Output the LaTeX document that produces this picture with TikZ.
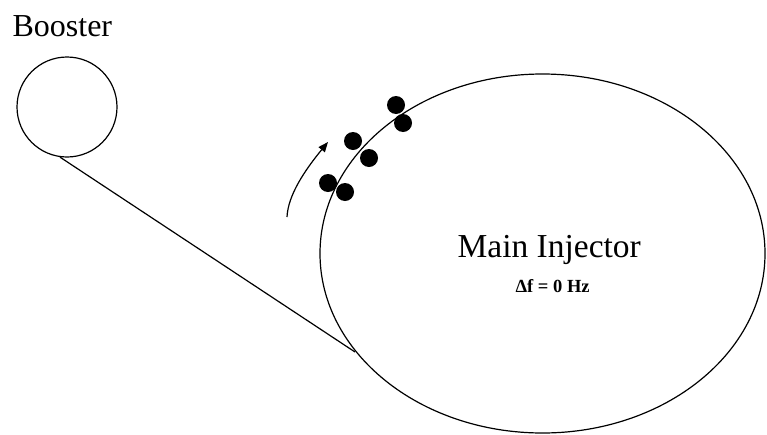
\documentclass[tikz,border=0pt]{standalone}
\usepackage{fontspec}
\setmainfont{Liberation Serif}
\usetikzlibrary{shapes.geometric,arrows.meta}
\begin{document}
\begin{tikzpicture}[x=1pt,y=-1pt,line width=1.2pt,
  ring/.style={draw,circle,inner sep=0pt},
  bunch/.style={circle,fill=black,inner sep=0pt,minimum size=18pt},
  lbl/.style={inner sep=0pt,anchor=base west}]
\useasboundingbox (0,0) rectangle (767,434);
\node[ring,minimum size=100pt] (b) at (67,107) {};
\node[draw,ellipse,inner sep=0pt,minimum width=445pt,minimum height=359pt] (mi) at (542.5,253.5) {};
\coordinate (e1) at (355,352);
\draw (b.-98) -- (e1);
\node[lbl,font=\fontsize{32}{32}\selectfont] (tb) at (12,36) {Booster};
\node[lbl,font=\fontsize{33.5}{33.5}\selectfont] (tm) at (457,257) {Main Injector};
\node[lbl,font=\fontsize{18.5}{18.5}\selectfont\bfseries] (tf) at (515,292) {Δf = 0 Hz};
\node[bunch] (d1) at (396,105) {};
\node[bunch] (d2) at (403,123) {};
\node[bunch] (d3) at (353,141) {};
\node[bunch] (d4) at (369,158) {};
\node[bunch] (d5) at (328,183) {};
\node[bunch] (d6) at (345,192) {};
\coordinate (a0) at (287,217);
\coordinate (a1) at (328,142);
\draw[-{Triangle[length=10pt,width=8pt]}] (a0) .. controls (288,195) and (305,170) .. (a1);
\end{tikzpicture}
\end{document}
